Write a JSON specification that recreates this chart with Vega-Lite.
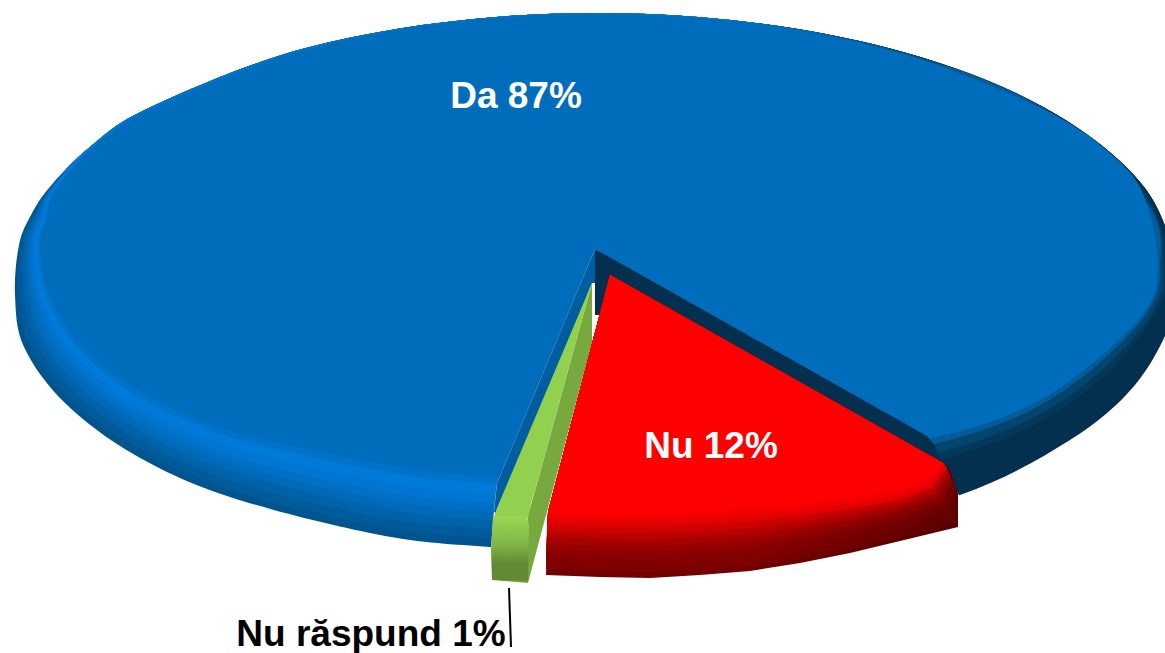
{"$schema":"https://vega.github.io/schema/vega-lite/v6.json","width":1165,"height":653,"padding":0,"autosize":"none","background":"white","view":{"stroke":null},
"datasets":{"labels":[{"label":"Da 87%","answer":"Da","percent":87,"x":516,"y":97,"c":"w"},{"label":"Nu 12%","answer":"Nu","percent":12,"x":711,"y":447,"c":"w"},{"label":"Nu răspund 1%","answer":"Nu răspund","percent":1,"x":371,"y":635,"c":"b"}],
"leader":[{"x":509,"y":588},{"x":511,"y":647}],
"s":[
{"p":"S","x":19,"y":245},{"p":"S","x":15,"y":295},{"p":"S","x":24,"y":347},{"p":"S","x":65,"y":403},{"p":"S","x":135,"y":455},{"p":"S","x":230,"y":497},{"p":"S","x":380,"y":535},{"p":"S","x":490,"y":547},{"p":"S","x":600,"y":552},{"p":"S","x":800,"y":534},{"p":"S","x":960,"y":495},{"p":"S","x":1070,"y":440},{"p":"S","x":1135,"y":385},{"p":"S","x":1172,"y":320},{"p":"S","x":1179,"y":277},{"p":"S","x":1144,"y":187},{"p":"S","x":1043,"y":107},{"p":"S","x":888,"y":48},{"p":"S","x":698,"y":17},{"p":"S","x":496,"y":17},{"p":"S","x":306,"y":48},{"p":"S","x":151,"y":107},{"p":"S","x":90,"y":147},{"p":"S","x":50,"y":187},{"p":"S","x":31,"y":215},
{"p":"t88","x":21,"y":245},{"p":"t88","x":19,"y":295},{"p":"t88","x":31,"y":347},{"p":"t88","x":73,"y":401},{"p":"t88","x":143,"y":451},{"p":"t88","x":234,"y":491},{"p":"t88","x":382,"y":527},{"p":"t88","x":490,"y":538},{"p":"t88","x":600,"y":543},{"p":"t88","x":800,"y":525},{"p":"t88","x":958,"y":488},{"p":"t88","x":1065,"y":436},{"p":"t88","x":1130,"y":382},{"p":"t88","x":1169,"y":319},{"p":"t88","x":1177,"y":276},{"p":"t88","x":1144,"y":187},{"p":"t88","x":1043,"y":107},{"p":"t88","x":888,"y":48},{"p":"t88","x":698,"y":17},{"p":"t88","x":496,"y":17},{"p":"t88","x":306,"y":48},{"p":"t88","x":151,"y":107},{"p":"t88","x":90,"y":147},{"p":"t88","x":50,"y":187},{"p":"t88","x":33,"y":215},
{"p":"t75","x":24,"y":245.5},{"p":"t75","x":24,"y":295.5},{"p":"t75","x":39,"y":347},{"p":"t75","x":82,"y":399},{"p":"t75","x":151,"y":446},{"p":"t75","x":239,"y":483},{"p":"t75","x":385,"y":518},{"p":"t75","x":490,"y":529},{"p":"t75","x":600,"y":534},{"p":"t75","x":800,"y":516},{"p":"t75","x":955,"y":480},{"p":"t75","x":1059,"y":432},{"p":"t75","x":1124.5,"y":379.5},{"p":"t75","x":1165,"y":317.5},{"p":"t75","x":1174,"y":274.5},{"p":"t75","x":1144,"y":187},{"p":"t75","x":1043,"y":107},{"p":"t75","x":888,"y":48},{"p":"t75","x":698,"y":17},{"p":"t75","x":496,"y":17},{"p":"t75","x":306,"y":48},{"p":"t75","x":151,"y":107},{"p":"t75","x":90,"y":147},{"p":"t75","x":51,"y":187},{"p":"t75","x":35,"y":215},
{"p":"t62","x":27,"y":246},{"p":"t62","x":28,"y":296},{"p":"t62","x":46,"y":347},{"p":"t62","x":91,"y":397},{"p":"t62","x":160,"y":442},{"p":"t62","x":244,"y":475},{"p":"t62","x":388,"y":509},{"p":"t62","x":490,"y":520},{"p":"t62","x":600,"y":525},{"p":"t62","x":800,"y":507},{"p":"t62","x":952,"y":473},{"p":"t62","x":1054,"y":427},{"p":"t62","x":1119,"y":377},{"p":"t62","x":1161,"y":316},{"p":"t62","x":1171,"y":273},{"p":"t62","x":1144,"y":187},{"p":"t62","x":1043,"y":107},{"p":"t62","x":888,"y":48},{"p":"t62","x":698,"y":17},{"p":"t62","x":496,"y":17},{"p":"t62","x":306,"y":48},{"p":"t62","x":151,"y":107},{"p":"t62","x":90,"y":147},{"p":"t62","x":51,"y":188},{"p":"t62","x":37,"y":215},
{"p":"t50","x":29.5,"y":246},{"p":"t50","x":32.5,"y":296},{"p":"t50","x":53.5,"y":347},{"p":"t50","x":99,"y":395},{"p":"t50","x":167.5,"y":437.5},{"p":"t50","x":248.5,"y":468.5},{"p":"t50","x":390,"y":501},{"p":"t50","x":490,"y":511.5},{"p":"t50","x":600,"y":516},{"p":"t50","x":800,"y":498},{"p":"t50","x":950,"y":465.5},{"p":"t50","x":1048.5,"y":423.5},{"p":"t50","x":1114,"y":374},{"p":"t50","x":1158,"y":315},{"p":"t50","x":1169,"y":272},{"p":"t50","x":1144,"y":187},{"p":"t50","x":1043,"y":107},{"p":"t50","x":888,"y":48},{"p":"t50","x":698,"y":17},{"p":"t50","x":496,"y":17},{"p":"t50","x":306,"y":48},{"p":"t50","x":151,"y":107},{"p":"t50","x":90,"y":147},{"p":"t50","x":52,"y":188},{"p":"t50","x":39,"y":216},
{"p":"t38","x":32,"y":246},{"p":"t38","x":37,"y":296},{"p":"t38","x":61,"y":347},{"p":"t38","x":107,"y":393},{"p":"t38","x":175,"y":433},{"p":"t38","x":253,"y":462},{"p":"t38","x":392,"y":493},{"p":"t38","x":490,"y":503},{"p":"t38","x":600,"y":507},{"p":"t38","x":800,"y":489},{"p":"t38","x":948,"y":458},{"p":"t38","x":1043,"y":420},{"p":"t38","x":1109,"y":371},{"p":"t38","x":1155,"y":314},{"p":"t38","x":1167,"y":271},{"p":"t38","x":1144,"y":190},{"p":"t38","x":1043,"y":107},{"p":"t38","x":888,"y":48},{"p":"t38","x":698,"y":17},{"p":"t38","x":496,"y":17},{"p":"t38","x":306,"y":48},{"p":"t38","x":151,"y":107},{"p":"t38","x":90,"y":147},{"p":"t38","x":52,"y":189},{"p":"t38","x":41,"y":217},
{"p":"t25","x":35,"y":246.5},{"p":"t25","x":41,"y":296.5},{"p":"t25","x":68,"y":347},{"p":"t25","x":116,"y":391},{"p":"t25","x":184,"y":429},{"p":"t25","x":258,"y":454},{"p":"t25","x":395,"y":484},{"p":"t25","x":490,"y":494},{"p":"t25","x":600,"y":498},{"p":"t25","x":800,"y":480},{"p":"t25","x":945,"y":451},{"p":"t25","x":1038,"y":415},{"p":"t25","x":1103.5,"y":368.5},{"p":"t25","x":1152,"y":312.5},{"p":"t25","x":1163,"y":270},{"p":"t25","x":1146,"y":198},{"p":"t25","x":1043,"y":107},{"p":"t25","x":888,"y":48},{"p":"t25","x":698,"y":17},{"p":"t25","x":496,"y":17},{"p":"t25","x":306,"y":48},{"p":"t25","x":151,"y":107},{"p":"t25","x":90,"y":147},{"p":"t25","x":53,"y":189},{"p":"t25","x":43,"y":218},
{"p":"t10","x":38,"y":247},{"p":"t10","x":46.5,"y":297},{"p":"t10","x":77,"y":347},{"p":"t10","x":126,"y":389},{"p":"t10","x":193.5,"y":423.5},{"p":"t10","x":263,"y":446},{"p":"t10","x":398,"y":474},{"p":"t10","x":490,"y":483},{"p":"t10","x":600,"y":487},{"p":"t10","x":800,"y":469},{"p":"t10","x":942,"y":442},{"p":"t10","x":1031,"y":410},{"p":"t10","x":1097,"y":365},{"p":"t10","x":1148,"y":311},{"p":"t10","x":1160,"y":269},{"p":"t10","x":1147,"y":203},{"p":"t10","x":1043,"y":108},{"p":"t10","x":888,"y":49},{"p":"t10","x":698,"y":17},{"p":"t10","x":496,"y":17},{"p":"t10","x":306,"y":48},{"p":"t10","x":151,"y":107},{"p":"t10","x":91,"y":148},{"p":"t10","x":54,"y":190},{"p":"t10","x":45,"y":219},
{"p":"F","x":40,"y":247},{"p":"F","x":50,"y":297},{"p":"F","x":83,"y":347},{"p":"F","x":133,"y":387},{"p":"F","x":200,"y":420},{"p":"F","x":267,"y":440},{"p":"F","x":400,"y":467},{"p":"F","x":490,"y":476},{"p":"F","x":600,"y":480},{"p":"F","x":800,"y":462},{"p":"F","x":940,"y":436},{"p":"F","x":1027,"y":407},{"p":"F","x":1093,"y":363},{"p":"F","x":1146,"y":310},{"p":"F","x":1158,"y":268},{"p":"F","x":1148,"y":207},{"p":"F","x":1120,"y":162},{"p":"F","x":1043,"y":109},{"p":"F","x":888,"y":50},{"p":"F","x":698,"y":18},{"p":"F","x":496,"y":18},{"p":"F","x":306,"y":50},{"p":"F","x":153,"y":109},{"p":"F","x":92,"y":149},{"p":"F","x":56,"y":191},{"p":"F","x":46,"y":220},
{"p":"cut","x":595,"y":249},{"p":"cut","x":497,"y":483},{"p":"cut","x":494,"y":510},{"p":"cut","x":490,"y":560},{"p":"cut","x":700,"y":600},{"p":"cut","x":960,"y":560},{"p":"cut","x":959,"y":495},{"p":"cut","x":942,"y":464},
{"p":"lw","x":595,"y":249},{"p":"lw","x":497,"y":483},{"p":"lw","x":494,"y":512},{"p":"lw","x":500,"y":515},{"p":"lw","x":592,"y":283},{"p":"lw","x":595,"y":283},
{"p":"nw","x":595,"y":249},{"p":"nw","x":927,"y":436},{"p":"nw","x":935,"y":446},{"p":"nw","x":942,"y":464},{"p":"nw","x":610,"y":275},{"p":"nw","x":600,"y":315},{"p":"nw","x":595,"y":315},
{"p":"gs","x":592,"y":283},{"p":"gs","x":592,"y":343},{"p":"gs","x":550,"y":500},{"p":"gs","x":528,"y":583},{"p":"gs","x":528,"y":515},{"p":"gs","x":540,"y":473},
{"p":"gt","x":592,"y":283},{"p":"gt","x":497,"y":508},{"p":"gt","x":493,"y":520},{"p":"gt","x":528,"y":518},{"p":"gt","x":531,"y":503},{"p":"gt","x":540,"y":473},
{"p":"gf","x":493,"y":516},{"p":"gf","x":527,"y":516},{"p":"gf","x":529,"y":525},{"p":"gf","x":528,"y":583},{"p":"gf","x":492,"y":580},{"p":"gf","x":491,"y":550},
{"p":"r100","x":610,"y":275},{"p":"r100","x":943,"y":463},{"p":"r100","x":950,"y":470},{"p":"r100","x":958,"y":493},{"p":"r100","x":958,"y":527},{"p":"r100","x":900,"y":541},{"p":"r100","x":850,"y":553},{"p":"r100","x":800,"y":563},{"p":"r100","x":750,"y":571},{"p":"r100","x":700,"y":575},{"p":"r100","x":650,"y":578},{"p":"r100","x":600,"y":577},{"p":"r100","x":546,"y":575},{"p":"r100","x":548,"y":512},
{"p":"r90","x":610,"y":275},{"p":"r90","x":943,"y":463},{"p":"r90","x":958,"y":505},{"p":"r90","x":955,"y":522},{"p":"r90","x":900,"y":536},{"p":"r90","x":850,"y":547.5},{"p":"r90","x":800,"y":557},{"p":"r90","x":750,"y":565},{"p":"r90","x":700,"y":569},{"p":"r90","x":650,"y":572},{"p":"r90","x":600,"y":571},{"p":"r90","x":546,"y":569},{"p":"r90","x":548,"y":512},
{"p":"r80","x":610,"y":275},{"p":"r80","x":943,"y":463},{"p":"r80","x":957,"y":497},{"p":"r80","x":951,"y":517},{"p":"r80","x":900,"y":531},{"p":"r80","x":850,"y":542},{"p":"r80","x":800,"y":551},{"p":"r80","x":750,"y":559},{"p":"r80","x":700,"y":562},{"p":"r80","x":650,"y":565},{"p":"r80","x":600,"y":564},{"p":"r80","x":546,"y":562},{"p":"r80","x":548,"y":512},
{"p":"r70","x":610,"y":275},{"p":"r70","x":943,"y":463},{"p":"r70","x":956,"y":491},{"p":"r70","x":948,"y":512},{"p":"r70","x":900,"y":526},{"p":"r70","x":850,"y":536.5},{"p":"r70","x":800,"y":545},{"p":"r70","x":750,"y":552},{"p":"r70","x":700,"y":556},{"p":"r70","x":650,"y":559},{"p":"r70","x":600,"y":558},{"p":"r70","x":546,"y":556},{"p":"r70","x":548,"y":512},
{"p":"r60","x":610,"y":275},{"p":"r60","x":943,"y":463},{"p":"r60","x":955,"y":486},{"p":"r60","x":945,"y":507},{"p":"r60","x":900,"y":521},{"p":"r60","x":850,"y":531},{"p":"r60","x":800,"y":539},{"p":"r60","x":750,"y":546},{"p":"r60","x":700,"y":550},{"p":"r60","x":650,"y":552},{"p":"r60","x":600,"y":552},{"p":"r60","x":546,"y":550},{"p":"r60","x":548,"y":512},
{"p":"r50","x":610,"y":275},{"p":"r50","x":943,"y":463},{"p":"r50","x":953,"y":481},{"p":"r50","x":941,"y":503},{"p":"r50","x":900,"y":515.5},{"p":"r50","x":850,"y":525.5},{"p":"r50","x":800,"y":533.5},{"p":"r50","x":750,"y":540},{"p":"r50","x":700,"y":543.5},{"p":"r50","x":650,"y":546},{"p":"r50","x":600,"y":545.5},{"p":"r50","x":547,"y":543.5},{"p":"r50","x":548,"y":512},
{"p":"r40","x":610,"y":275},{"p":"r40","x":943,"y":463},{"p":"r40","x":951,"y":476},{"p":"r40","x":938,"y":498},{"p":"r40","x":900,"y":510},{"p":"r40","x":850,"y":520},{"p":"r40","x":800,"y":528},{"p":"r40","x":750,"y":534},{"p":"r40","x":700,"y":537},{"p":"r40","x":650,"y":540},{"p":"r40","x":600,"y":539},{"p":"r40","x":547,"y":537},{"p":"r40","x":548,"y":512},
{"p":"r30","x":610,"y":275},{"p":"r30","x":943,"y":463},{"p":"r30","x":949,"y":472},{"p":"r30","x":935,"y":493},{"p":"r30","x":900,"y":505},{"p":"r30","x":850,"y":514.5},{"p":"r30","x":800,"y":522},{"p":"r30","x":750,"y":528},{"p":"r30","x":700,"y":531},{"p":"r30","x":650,"y":533},{"p":"r30","x":600,"y":533},{"p":"r30","x":547,"y":531},{"p":"r30","x":548,"y":512},
{"p":"r20","x":610,"y":275},{"p":"r20","x":943,"y":463},{"p":"r20","x":947,"y":468},{"p":"r20","x":932,"y":488},{"p":"r20","x":900,"y":500},{"p":"r20","x":850,"y":509},{"p":"r20","x":800,"y":516},{"p":"r20","x":750,"y":521},{"p":"r20","x":700,"y":525},{"p":"r20","x":650,"y":527},{"p":"r20","x":600,"y":527},{"p":"r20","x":547.6,"y":525},{"p":"r20","x":548,"y":512},
{"p":"r10","x":610,"y":275},{"p":"r10","x":943,"y":463},{"p":"r10","x":945,"y":465},{"p":"r10","x":928,"y":483},{"p":"r10","x":900,"y":495},{"p":"r10","x":850,"y":503.5},{"p":"r10","x":800,"y":510},{"p":"r10","x":750,"y":515},{"p":"r10","x":700,"y":518},{"p":"r10","x":650,"y":520},{"p":"r10","x":600,"y":520},{"p":"r10","x":547.8,"y":518},{"p":"r10","x":548,"y":512},
{"p":"r","x":610,"y":275},{"p":"r","x":943,"y":463},{"p":"r","x":925,"y":478},{"p":"r","x":900,"y":490},{"p":"r","x":850,"y":498},{"p":"r","x":800,"y":504},{"p":"r","x":750,"y":509},{"p":"r","x":700,"y":512},{"p":"r","x":650,"y":514},{"p":"r","x":600,"y":514},{"p":"r","x":548,"y":512}
]},
"encoding":{"x":{"field":"x","type":"quantitative","scale":{"domain":[0,1165],"nice":false,"zero":false},"axis":null},"y":{"field":"y","type":"quantitative","scale":{"domain":[0,653],"reverse":true,"nice":false,"zero":false},"axis":null}},
"layer":[
{"data":{"name":"s"},"transform":[{"filter":"datum.p=='S'"}],"mark":{"type":"line","order":null,"interpolate":"cardinal-closed","clip":true,"strokeWidth":0,"fill":{"gradient":"linear","x1":0,"y1":0,"x2":1,"y2":0,"stops":[{"offset":0,"color":"#00558f"},{"offset":0.6,"color":"#00558f"},{"offset":0.8,"color":"#03304f"},{"offset":1,"color":"#03304f"}]}}},
{"data":{"name":"s"},"transform":[{"filter":"datum.p=='t88'"}],"mark":{"type":"line","order":null,"interpolate":"cardinal-closed","clip":true,"strokeWidth":0,"fill":{"gradient":"linear","x1":0,"y1":0,"x2":1,"y2":0,"stops":[{"offset":0,"color":"#005b9c"},{"offset":0.6,"color":"#005b9c"},{"offset":0.8,"color":"#03304f"},{"offset":1,"color":"#03304f"}]}}},
{"data":{"name":"s"},"transform":[{"filter":"datum.p=='t75'"}],"mark":{"type":"line","order":null,"interpolate":"cardinal-closed","clip":true,"strokeWidth":0,"fill":{"gradient":"linear","x1":0,"y1":0,"x2":1,"y2":0,"stops":[{"offset":0,"color":"#0062a9"},{"offset":0.6,"color":"#0062a9"},{"offset":0.8,"color":"#03304f"},{"offset":1,"color":"#03304f"}]}}},
{"data":{"name":"s"},"transform":[{"filter":"datum.p=='t62'"}],"mark":{"type":"line","order":null,"interpolate":"cardinal-closed","clip":true,"strokeWidth":0,"fill":{"gradient":"linear","x1":0,"y1":0,"x2":1,"y2":0,"stops":[{"offset":0,"color":"#0069b8"},{"offset":0.6,"color":"#0069b8"},{"offset":0.8,"color":"#03304f"},{"offset":1,"color":"#03304f"}]}}},
{"data":{"name":"s"},"transform":[{"filter":"datum.p=='t50'"}],"mark":{"type":"line","order":null,"interpolate":"cardinal-closed","clip":true,"strokeWidth":0,"fill":{"gradient":"linear","x1":0,"y1":0,"x2":1,"y2":0,"stops":[{"offset":0,"color":"#0070c6"},{"offset":0.6,"color":"#0070c6"},{"offset":0.8,"color":"#03304f"},{"offset":1,"color":"#03304f"}]}}},
{"data":{"name":"s"},"transform":[{"filter":"datum.p=='t38'"}],"mark":{"type":"line","order":null,"interpolate":"cardinal-closed","clip":true,"strokeWidth":0,"fill":{"gradient":"linear","x1":0,"y1":0,"x2":1,"y2":0,"stops":[{"offset":0,"color":"#0076d2"},{"offset":0.6,"color":"#0076d2"},{"offset":0.8,"color":"#03385a"},{"offset":1,"color":"#03385a"}]}}},
{"data":{"name":"s"},"transform":[{"filter":"datum.p=='t25'"}],"mark":{"type":"line","order":null,"interpolate":"cardinal-closed","clip":true,"strokeWidth":0,"fill":{"gradient":"linear","x1":0,"y1":0,"x2":1,"y2":0,"stops":[{"offset":0,"color":"#007ad9"},{"offset":0.6,"color":"#007ad9"},{"offset":0.8,"color":"#044570"},{"offset":1,"color":"#044570"}]}}},
{"data":{"name":"s"},"transform":[{"filter":"datum.p=='t10'"}],"mark":{"type":"line","order":null,"interpolate":"cardinal-closed","clip":true,"strokeWidth":0,"fill":{"gradient":"linear","x1":0,"y1":0,"x2":1,"y2":0,"stops":[{"offset":0,"color":"#0072c8"},{"offset":0.6,"color":"#0072c8"},{"offset":0.8,"color":"#055a98"},{"offset":1,"color":"#055a98"}]}}},
{"data":{"name":"s"},"transform":[{"filter":"datum.p=='F'"}],"mark":{"type":"line","order":null,"interpolate":"cardinal-closed","clip":true,"strokeWidth":0,"fill":"#006cbc"}},
{"data":{"name":"s"},"transform":[{"filter":"datum.p=='cut'"}],"mark":{"type":"line","order":null,"clip":true,"strokeWidth":0,"fill":"white"}},
{"data":{"name":"s"},"transform":[{"filter":"datum.p=='lw'"}],"mark":{"type":"line","order":null,"clip":true,"strokeWidth":0,"fill":"#005d9f"}},
{"data":{"name":"s"},"transform":[{"filter":"datum.p=='nw'"}],"mark":{"type":"line","order":null,"clip":true,"strokeWidth":0,"fill":"#03304f"}},
{"data":{"name":"s"},"transform":[{"filter":"datum.p=='gs'"}],"mark":{"type":"line","order":null,"clip":true,"strokeWidth":0,"fill":"#78a93f"}},
{"data":{"name":"s"},"transform":[{"filter":"datum.p=='gt'"}],"mark":{"type":"line","order":null,"clip":true,"strokeWidth":0,"fill":"#92d050"}},
{"data":{"name":"s"},"transform":[{"filter":"datum.p=='gf'"}],"mark":{"type":"line","order":null,"clip":true,"strokeWidth":0,"fill":{"gradient":"linear","x1":0,"y1":0,"x2":0,"y2":1,"stops":[{"offset":0,"color":"#98d855"},{"offset":0.45,"color":"#7fb346"},{"offset":0.7,"color":"#628a35"},{"offset":0.95,"color":"#628a35"},{"offset":1,"color":"#7ab040"}]}}},
{"data":{"name":"s"},"transform":[{"filter":"datum.p=='r100'"}],"mark":{"type":"line","order":null,"clip":true,"strokeWidth":0,"fill":{"gradient":"linear","x1":0,"y1":0,"x2":1,"y2":0,"stops":[{"offset":0,"color":"#740000"},{"offset":0.5,"color":"#740000"},{"offset":1,"color":"#560000"}]}}},
{"data":{"name":"s"},"transform":[{"filter":"datum.p=='r90'"}],"mark":{"type":"line","order":null,"clip":true,"strokeWidth":0,"fill":{"gradient":"linear","x1":0,"y1":0,"x2":1,"y2":0,"stops":[{"offset":0,"color":"#7e0000"},{"offset":0.5,"color":"#7e0000"},{"offset":1,"color":"#5e0000"}]}}},
{"data":{"name":"s"},"transform":[{"filter":"datum.p=='r80'"}],"mark":{"type":"line","order":null,"clip":true,"strokeWidth":0,"fill":{"gradient":"linear","x1":0,"y1":0,"x2":1,"y2":0,"stops":[{"offset":0,"color":"#840000"},{"offset":0.5,"color":"#840000"},{"offset":1,"color":"#620000"}]}}},
{"data":{"name":"s"},"transform":[{"filter":"datum.p=='r70'"}],"mark":{"type":"line","order":null,"clip":true,"strokeWidth":0,"fill":{"gradient":"linear","x1":0,"y1":0,"x2":1,"y2":0,"stops":[{"offset":0,"color":"#8a0000"},{"offset":0.5,"color":"#8a0000"},{"offset":1,"color":"#680000"}]}}},
{"data":{"name":"s"},"transform":[{"filter":"datum.p=='r60'"}],"mark":{"type":"line","order":null,"clip":true,"strokeWidth":0,"fill":{"gradient":"linear","x1":0,"y1":0,"x2":1,"y2":0,"stops":[{"offset":0,"color":"#960000"},{"offset":0.5,"color":"#960000"},{"offset":1,"color":"#720000"}]}}},
{"data":{"name":"s"},"transform":[{"filter":"datum.p=='r50'"}],"mark":{"type":"line","order":null,"clip":true,"strokeWidth":0,"fill":{"gradient":"linear","x1":0,"y1":0,"x2":1,"y2":0,"stops":[{"offset":0,"color":"#a60000"},{"offset":0.5,"color":"#a60000"},{"offset":1,"color":"#820000"}]}}},
{"data":{"name":"s"},"transform":[{"filter":"datum.p=='r40'"}],"mark":{"type":"line","order":null,"clip":true,"strokeWidth":0,"fill":{"gradient":"linear","x1":0,"y1":0,"x2":1,"y2":0,"stops":[{"offset":0,"color":"#ba0000"},{"offset":0.5,"color":"#ba0000"},{"offset":1,"color":"#9a0000"}]}}},
{"data":{"name":"s"},"transform":[{"filter":"datum.p=='r30'"}],"mark":{"type":"line","order":null,"clip":true,"strokeWidth":0,"fill":{"gradient":"linear","x1":0,"y1":0,"x2":1,"y2":0,"stops":[{"offset":0,"color":"#cf0000"},{"offset":0.5,"color":"#cf0000"},{"offset":1,"color":"#b50000"}]}}},
{"data":{"name":"s"},"transform":[{"filter":"datum.p=='r20'"}],"mark":{"type":"line","order":null,"clip":true,"strokeWidth":0,"fill":"#e40000"}},
{"data":{"name":"s"},"transform":[{"filter":"datum.p=='r10'"}],"mark":{"type":"line","order":null,"clip":true,"strokeWidth":0,"fill":"#f50000"}},
{"data":{"name":"s"},"transform":[{"filter":"datum.p=='r'"}],"mark":{"type":"line","order":null,"clip":true,"strokeWidth":0,"fill":"#ff0000"}},
{"data":{"name":"leader"},"mark":{"type":"line","order":null,"color":"#000000","strokeWidth":2}},
{"data":{"name":"labels"},"mark":{"type":"text","font":"Liberation Sans","fontWeight":"bold","fontSize":37,"align":"center","baseline":"middle"},"encoding":{"text":{"field":"label"},"color":{"field":"c","type":"nominal","scale":{"domain":["w","b"],"range":["#ffffff","#000000"]},"legend":null}}}
]}
